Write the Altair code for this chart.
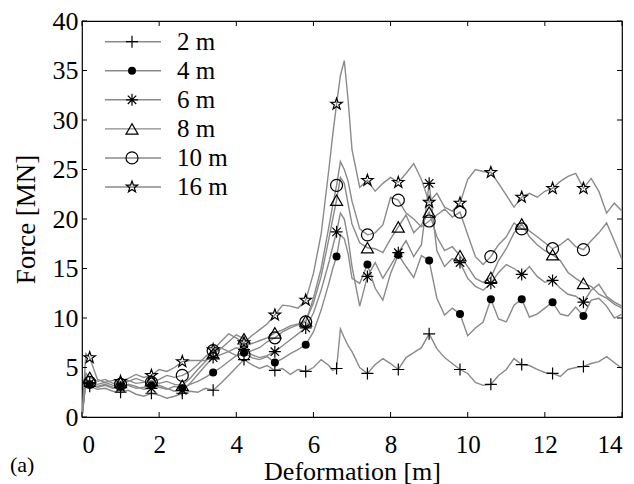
import altair as alt
import pandas as pd

FONT = "Liberation Serif"
SERIES = ["2 m", "4 m", "6 m", "8 m", "10 m", "16 m"]

X = [0, 0.1, 0.2, 0.4, 0.6, 0.8, 1.0, 1.2, 1.4, 1.6, 1.8, 2.0, 2.2, 2.4, 2.6, 2.8, 3.0, 3.2, 3.4, 3.6,
     3.8, 4.0, 4.2, 4.4, 4.6, 4.8, 5.0, 5.2, 5.4, 5.6, 5.8, 6.0, 6.2, 6.4, 6.5, 6.6, 6.7, 6.8, 6.9, 7.0,
     7.2, 7.4, 7.6, 7.8, 8.0, 8.2, 8.4, 8.6, 8.8, 9.0, 9.2, 9.4, 9.6, 9.8, 10.0, 10.2, 10.4, 10.6, 10.8, 11.0,
     11.2, 11.4, 11.6, 11.8, 12.0, 12.2, 12.4, 12.6, 12.8, 13.0, 13.2, 13.4, 13.6, 13.8, 14.0]

F_2 = [0, 3.4, 3.1, 2.8, 2.9, 2.6, 2.5, 2.7, 2.3, 2.1,
       2.4, 2.2, 1.9, 2.1, 2.4, 2.6, 2.5, 2.9, 2.7, 3.4,
       4.2, 5.0, 5.8, 5.3, 4.9, 5.2, 4.7, 4.9, 4.3, 4.8,
       4.6, 5.0, 5.8, 5.2, 4.7, 4.9, 8.9, 8.0, 7.2, 6.6,
       5.0, 4.4, 5.3, 5.9, 5.4, 4.8, 6.0, 6.5, 7.0, 8.4,
       6.9, 6.0, 5.4, 4.8, 4.4, 3.5, 3.2, 3.3, 4.2, 4.8,
       5.9, 5.3, 5.2, 4.8, 4.5, 4.4, 4.1, 4.8, 5.0, 5.1,
       5.4, 5.6, 6.1, 5.5, 4.9]
F_4 = [0, 3.6, 3.3, 3.0, 3.2, 2.9, 3.1, 3.2, 2.9, 3.0,
       3.2, 3.0, 2.8, 3.1, 2.9, 3.3, 3.6, 4.0, 4.5, 5.0,
       5.6, 6.2, 6.5, 6.0, 5.8, 6.1, 5.5, 5.9, 6.4, 6.8,
       7.3, 8.6, 10.8, 13.5, 15.0, 16.2, 18.4, 18.0, 16.5, 14.0,
       13.5, 15.4, 13.0, 11.8, 14.5, 16.4, 15.2, 14.1, 16.3, 15.8,
       12.0, 10.3, 11.0, 10.4, 8.2, 9.0, 9.6, 11.9, 9.9, 9.6,
       11.3, 11.9, 10.1, 10.4, 11.0, 11.6, 10.4, 10.2, 11.1, 10.2,
       11.8, 12.0, 11.2, 10.0, 10.4]
F_6 = [0, 3.8, 3.4, 3.1, 3.3, 3.0, 3.0, 3.3, 3.1, 2.8,
       2.9, 3.2, 2.9, 2.6, 2.7, 3.4, 4.3, 5.2, 6.0, 6.3,
       6.6, 7.0, 6.8, 6.3, 6.0, 6.2, 6.6, 7.2, 7.8, 8.4,
       9.0, 10.5, 12.8, 15.6, 17.2, 18.7, 20.6, 20.0, 18.0, 15.2,
       11.2, 14.2, 15.6, 14.0, 15.3, 16.6, 17.8, 16.2, 17.4, 23.6,
       16.8, 15.2, 16.0, 15.6, 14.0, 13.2, 12.8, 13.5, 14.6, 15.4,
       15.0, 14.4, 15.2, 14.2, 13.6, 13.8, 13.0, 12.4, 12.2, 11.6,
       12.8, 13.4, 12.2, 11.6, 11.2]
F_8 = [0, 4.4, 4.0, 3.6, 3.8, 3.4, 3.5, 3.7, 3.4, 3.5,
       3.7, 3.4, 3.6, 3.3, 3.2, 3.9, 4.8, 5.6, 6.4, 6.9,
       7.6, 8.3, 7.9, 7.4, 7.7, 8.0, 8.5, 8.8, 9.2, 9.4,
       9.7, 11.5, 14.2, 18.0, 20.0, 21.9, 24.2, 23.6, 21.5, 19.5,
       17.6, 17.1, 17.0, 16.6, 18.0, 19.2, 20.4, 18.6, 19.4, 20.7,
       18.2, 16.8, 17.2, 16.3, 15.2, 14.0, 13.6, 14.1, 15.8, 17.0,
       18.6, 19.5, 18.2, 17.4, 16.8, 16.4, 15.8, 14.6, 14.0, 13.5,
       13.2, 12.4, 12.0, 11.4, 11.0]
F_10 = [0, 4.0, 3.5, 3.3, 3.5, 3.2, 3.3, 3.6, 3.9, 3.6,
        3.5, 3.8, 4.2, 4.0, 4.2, 4.6, 5.3, 6.1, 6.7, 7.0,
        6.6, 6.2, 6.3, 6.7, 7.0, 7.6, 8.0, 8.6, 9.0, 9.3,
        9.6, 12.0, 15.0, 19.2, 21.4, 23.4, 25.8, 25.0, 23.8, 21.8,
        19.0, 18.4, 18.6, 19.4, 22.2, 21.9, 20.6, 20.0, 19.2, 19.8,
        20.4, 21.0, 20.2, 20.7, 18.4, 16.2, 15.4, 16.2, 17.4, 18.2,
        19.6, 19.0, 18.8, 18.2, 17.6, 17.0, 17.4, 18.0, 17.2, 16.9,
        17.8, 18.6, 19.6, 17.8, 15.9]
F_16 = [0, 6.4, 6.0, 3.8, 3.5, 3.7, 3.6, 3.9, 4.3, 4.0,
        4.2, 4.8, 4.6, 5.0, 5.6, 5.7, 5.7, 5.7, 6.8, 7.6,
        8.4, 8.0, 7.5, 8.2, 8.8, 9.4, 10.3, 11.3, 11.2, 11.0,
        11.8, 14.5, 18.5, 25.0, 28.5, 31.6, 34.5, 36.0, 32.0, 27.0,
        23.2, 23.9, 22.8, 23.6, 24.2, 23.7, 24.6, 25.6, 24.0, 21.7,
        22.6, 21.2, 20.8, 21.6, 24.0, 25.0, 24.8, 24.7, 23.6, 22.4,
        21.2, 22.2, 22.6, 22.2, 22.8, 23.1, 23.8, 24.3, 24.6, 23.1,
        24.1, 22.8, 20.6, 21.6, 20.8]

MARKER_X = [0.2, 1.0, 1.8, 2.6, 3.4, 4.2, 5.0, 5.8, 6.6, 7.4, 8.2, 9.0, 9.8, 10.6, 11.4, 12.2, 13.0]
X_TICKS = [0, 2, 4, 6, 8, 10, 12, 14]
Y_TICKS = [0, 5, 10, 15, 20, 25, 30, 35, 40]

rows = []
for name, ys in zip(SERIES, [F_2, F_4, F_6, F_8, F_10, F_16]):
    for xv, yv in zip(X, ys):
        rows.append({"x": xv, "force": yv, "series": name})
df = pd.DataFrame(rows)
mk = df[df["x"].round(2).isin(MARKER_X)]
mk_open = mk[mk["series"] != "4 m"]
mk_fill = mk[mk["series"] == "4 m"]

PLUS = "M-1,0L1,0M0,-1L0,1"
AST = "M-1,0L1,0M0,-1L0,1M-0.7,-0.7L0.7,0.7M-0.7,0.7L0.7,-0.7"
STAR = ("M0,-1L0.235,-0.324L0.951,-0.309L0.380,0.124L0.588,0.809L0,0.4"
        "L-0.588,0.809L-0.380,0.124L-0.951,-0.309L-0.235,-0.324Z")
OPEN = ["2 m", "6 m", "8 m", "10 m", "16 m"]
shape_enc = alt.Shape("series:N", scale=alt.Scale(domain=OPEN, range=[PLUS, AST, "triangle-up", "circle", STAR]), legend=None)
size_enc = alt.Size("series:N", scale=alt.Scale(domain=OPEN, range=[144, 144, 196, 169, 216]), legend=None)

GRAY = "#8a8a8a"

xenc = alt.X("x:Q", scale=alt.Scale(domain=[0, 14], nice=False),
             axis=alt.Axis(values=X_TICKS, title="Deformation [m]", labelPadding=15, titlePadding=1,
                           labelFontSize=25, titleFontSize=26))
yenc = alt.Y("force:Q", scale=alt.Scale(domain=[0, 40], nice=False),
             axis=alt.Axis(values=Y_TICKS, title="Force [MN]", labelPadding=4, titlePadding=12,
                           titleFontSize=27))

lines = alt.Chart(df).mark_line(color=GRAY, strokeWidth=1.4).encode(x=xenc, y=yenc, detail="series:N")

xt = pd.DataFrame({"t": X_TICKS})
yt = pd.DataFrame({"t": Y_TICKS})
xb = alt.Chart(xt).mark_rule(color="black").encode(x="t:Q", y=alt.value(396), y2=alt.value(391))
xtop = alt.Chart(xt).mark_rule(color="black").encode(x="t:Q", y=alt.value(0), y2=alt.value(5))
yl = alt.Chart(yt).mark_rule(color="black").encode(y="t:Q", x=alt.value(0), x2=alt.value(5))
yr = alt.Chart(yt).mark_rule(color="black").encode(y="t:Q", x=alt.value(540), x2=alt.value(535))

pts_open = alt.Chart(mk_open).mark_point(filled=False, color="black", strokeWidth=1.2, opacity=1).encode(
    x="x:Q", y="force:Q", shape=shape_enc, size=size_enc)
pts_fill = alt.Chart(mk_fill).mark_circle(color="black", size=64, opacity=1).encode(x="x:Q", y="force:Q")

main = alt.layer(lines, xb, xtop, yl, yr, pts_open, pts_fill)

leg_df = pd.DataFrame({"series": SERIES})
ly = alt.Y("series:N", sort=SERIES, scale=alt.Scale(type="point", domain=SERIES, range=[20.7, 166], padding=0), axis=None)
leg_line = alt.Chart(leg_df).mark_rule(color=GRAY, strokeWidth=1.4).encode(y=ly, x=alt.value(23), x2=alt.value(79))
leg_open = alt.Chart(leg_df[leg_df["series"] != "4 m"]).mark_point(filled=False, color="black", strokeWidth=1.2, opacity=1).encode(
    y=ly, x=alt.value(50), shape=shape_enc, size=size_enc)
leg_fill = alt.Chart(leg_df[leg_df["series"] == "4 m"]).mark_circle(color="black", size=64, opacity=1).encode(y=ly, x=alt.value(50))
leg_text = alt.Chart(leg_df).mark_text(align="left", baseline="middle", font=FONT, fontSize=25, color="black").encode(
    y=ly, x=alt.value(95), text="series:N")
panel = alt.Chart(pd.DataFrame({"lab": ["(a)"]})).mark_text(align="left", baseline="middle", font=FONT, fontSize=22, color="black").encode(
    x=alt.value(-72), y=alt.value(444), text="lab:N")

legend = alt.layer(leg_line, leg_open, leg_fill, leg_text, panel)

chart = alt.layer(main, legend).resolve_scale(y="independent").properties(
    width=540, height=396,
    padding={"left": 82, "top": 21, "right": 12, "bottom": 67},
    autosize=alt.AutoSizeParams(type="none"),
).configure_view(stroke="black", strokeWidth=1.2).configure_axis(
    labelFont=FONT, titleFont=FONT, labelFontSize=26, titleFontSize=26,
    labelColor="black", titleColor="black", titleFontWeight="normal",
    grid=False, domain=False, ticks=False,
)

chart.save("out.html", embed_options={"renderer": "svg", "actions": False})
